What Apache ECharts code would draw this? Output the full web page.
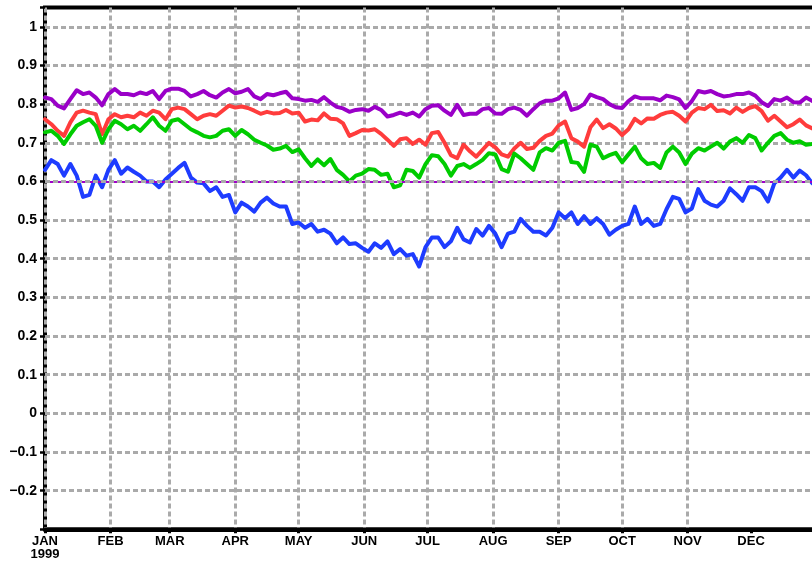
<!DOCTYPE html>
<html><head><meta charset="utf-8">
<script src="https://cdn.jsdelivr.net/npm/echarts@6/dist/echarts.min.js"></script>
<style>html,body{margin:0;padding:0;background:#fff}#c{width:812px;height:562px}</style>
</head><body><div id="c"></div>
<script>
// x positions: day of year 1999 (0 = Jan 1)
const monthStarts = [0, 31, 59, 90, 120, 151, 181, 212, 243, 273, 304, 334];
const monthLabels = ['JAN\n1999', 'FEB', 'MAR', 'APR', 'MAY', 'JUN', 'JUL', 'AUG', 'SEP', 'OCT', 'NOV', 'DEC'];
const yTickLabels = ['\u22120.2', '\u22120.1', '0', '0.1', '0.2', '0.3', '0.4', '0.5', '0.6', '0.7', '0.8', '0.9', '1'];
const refLevel = 0.6;
const sampleStep = 3;

const purpleVals = [
0.817,0.813,0.796,0.789,0.813,0.836,0.826,0.83,0.817,0.797,0.826,0.839,0.826,0.826,0.823,0.83,0.826,0.834,0.813,0.834,0.84,0.84,0.834,0.82,0.826,0.834,0.823,0.817,0.83,0.839,
0.828,0.832,0.839,0.82,0.813,0.826,0.823,0.828,0.832,0.815,0.813,0.809,0.811,0.806,0.818,0.804,0.793,0.789,0.78,0.785,0.787,0.783,0.793,0.785,0.768,0.772,0.778,0.772,0.778,0.768,0.787,0.796,
0.797,0.783,0.772,0.798,0.772,0.775,0.775,0.787,0.79,0.776,0.775,0.787,0.791,0.785,0.77,0.787,0.802,0.809,0.809,0.815,0.83,0.785,0.79,0.80,0.825,0.818,0.813,0.80,0.792,0.79,
0.808,0.82,0.815,0.815,0.815,0.81,0.822,0.818,0.812,0.79,0.808,0.834,0.83,0.834,0.826,0.82,0.822,0.826,0.826,0.83,0.822,0.805,0.795,0.813,0.809,0.817,0.805,0.804,0.817,0.808];

const redVals = [
0.761,0.748,0.731,0.718,0.753,0.778,0.783,0.778,0.774,0.722,0.761,0.774,0.766,0.77,0.766,0.778,0.77,0.783,0.778,0.761,0.787,0.791,0.787,0.774,0.761,0.77,0.774,0.77,0.783,0.796,
0.791,0.794,0.79,0.783,0.775,0.78,0.776,0.777,0.785,0.776,0.778,0.755,0.76,0.758,0.776,0.762,0.761,0.75,0.718,0.725,0.733,0.732,0.735,0.723,0.708,0.692,0.709,0.712,0.697,0.708,0.695,0.725,
0.728,0.70,0.668,0.66,0.695,0.678,0.664,0.682,0.70,0.688,0.67,0.664,0.685,0.70,0.684,0.687,0.705,0.718,0.724,0.745,0.755,0.712,0.703,0.69,0.74,0.76,0.738,0.748,0.737,0.72,
0.735,0.762,0.75,0.763,0.762,0.772,0.778,0.78,0.77,0.755,0.778,0.79,0.787,0.798,0.782,0.784,0.776,0.791,0.78,0.79,0.795,0.782,0.757,0.77,0.755,0.74,0.748,0.76,0.745,0.737];

const greenVals = [
0.727,0.731,0.718,0.697,0.722,0.744,0.753,0.761,0.744,0.70,0.735,0.757,0.748,0.735,0.744,0.731,0.748,0.766,0.744,0.731,0.757,0.761,0.748,0.735,0.727,0.718,0.714,0.718,0.731,0.735,
0.718,0.733,0.722,0.708,0.70,0.693,0.682,0.685,0.692,0.676,0.683,0.66,0.64,0.657,0.642,0.658,0.63,0.617,0.60,0.615,0.62,0.632,0.63,0.617,0.62,0.585,0.59,0.63,0.627,0.61,0.645,0.668,
0.665,0.645,0.615,0.64,0.645,0.635,0.645,0.656,0.673,0.67,0.632,0.625,0.672,0.66,0.645,0.63,0.675,0.686,0.68,0.70,0.705,0.65,0.648,0.625,0.695,0.69,0.66,0.668,0.674,0.65,
0.67,0.69,0.66,0.645,0.648,0.635,0.675,0.69,0.675,0.645,0.672,0.686,0.68,0.69,0.70,0.685,0.703,0.712,0.70,0.72,0.712,0.68,0.70,0.718,0.725,0.708,0.70,0.704,0.695,0.697];

const blueVals = [
0.63,0.655,0.645,0.615,0.645,0.615,0.56,0.565,0.615,0.585,0.63,0.655,0.62,0.636,0.625,0.615,0.60,0.60,0.585,0.605,0.62,0.635,0.648,0.61,0.597,0.595,0.575,0.585,0.56,0.565,
0.52,0.545,0.535,0.522,0.545,0.558,0.543,0.535,0.535,0.49,0.494,0.48,0.49,0.47,0.475,0.465,0.44,0.455,0.438,0.44,0.428,0.418,0.44,0.428,0.445,0.412,0.425,0.408,0.412,0.38,0.43,0.455,
0.455,0.43,0.445,0.48,0.45,0.442,0.477,0.46,0.485,0.465,0.43,0.465,0.47,0.503,0.485,0.47,0.47,0.46,0.48,0.52,0.505,0.52,0.49,0.51,0.49,0.505,0.49,0.462,0.475,0.485,
0.49,0.535,0.49,0.503,0.485,0.49,0.528,0.56,0.555,0.52,0.53,0.58,0.55,0.54,0.535,0.55,0.582,0.567,0.55,0.585,0.585,0.575,0.548,0.595,0.61,0.63,0.61,0.628,0.616,0.595];

const sampleDays = purpleVals.map((_, i) => i * sampleStep);
function pairs(vals) { return vals.map((v, i) => [sampleDays[i], v]); }

const FONT = '"Liberation Sans", Arial, sans-serif';
const gridGray = '#aaaaaa';
const dash = [5, 3];

const chart = echarts.init(document.getElementById('c'), null, { renderer: 'canvas' });

function lineSeries(name, vals, color) {
  return {
    name: name, type: 'line', data: pairs(vals), showSymbol: false, symbol: 'none',
    lineStyle: { color: color, width: 4, join: 'round', cap: 'round' },
    itemStyle: { color: color }, silent: true, clip: true
  };
}

chart.setOption({
  animation: false,
  backgroundColor: '#fff',
  grid: { left: 45, top: 7.5, width: 771.6, height: 521.8, outerBoundsMode: 'none', containLabel: false,
    show: true, borderColor: '#000', borderWidth: 4, backgroundColor: '#fff' },
  xAxis: {
    type: 'value', min: 0, max: 365,
    axisLine: { show: true, onZero: false, lineStyle: { color: '#000', width: 4 } },
    axisTick: { show: true, customValues: monthStarts, length: 4, lineStyle: { color: '#000', width: 3 } },
    axisLabel: {
      customValues: monthStarts,
      formatter: function (v) { const i = monthStarts.indexOf(Math.round(v)); return i >= 0 ? monthLabels[i] : ''; },
      color: '#000', fontFamily: FONT, fontWeight: 'bold', fontSize: 13, lineHeight: 13, margin: 6
    },
    splitLine: { show: true, showMaxLine: false, lineStyle: { color: gridGray, width: 3, type: dash } }
  },
  yAxis: {
    type: 'value', min: -0.3, max: 1.05, interval: 0.1,
    axisLine: { show: false, onZero: false },
    axisTick: { show: true, length: 5, lineStyle: { color: '#000', width: 2.5 } },
    axisLabel: {
      formatter: function (v) {
        const k = Math.round(v * 10);
        if (Math.abs(v * 10 - k) > 0.01 || k < -2 || k > 10) return '';
        return yTickLabels[k + 2];
      },
      color: '#000', fontFamily: FONT, fontWeight: 'bold', fontSize: 14, margin: 8
    },
    splitLine: { show: true, showMaxLine: false, showMinLine: false, lineStyle: { color: gridGray, width: 3, type: dash } }
  },
  series: [
    lineSeries('purple', purpleVals, '#9a00c8'),
    lineSeries('red', redVals, '#ff3c3c'),
    lineSeries('green', greenVals, '#00cc00'),
    lineSeries('blue', blueVals, '#1e3cff'),
    {
      type: 'line', data: [], silent: true,
      markLine: { symbol: 'none', silent: true, animation: false, label: { show: false },
        lineStyle: { color: '#a000c8', width: 2, type: 'solid' }, data: [{ yAxis: refLevel }] }
    },
    {
      type: 'line', data: [], silent: true,
      markLine: { symbol: 'none', silent: true, animation: false, label: { show: false },
        lineStyle: { color: gridGray, width: 3, type: dash }, data: [{ yAxis: refLevel }] }
    }
  ]
});
</script></body></html>
